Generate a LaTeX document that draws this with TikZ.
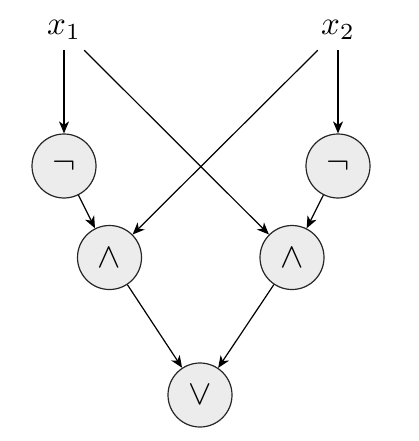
\documentclass[tikz,border=0pt]{standalone}
\usepackage{graphicx}
\usetikzlibrary{arrows.meta}
\begin{document}
\begin{tikzpicture}[x=1pt,y=-1pt,
  gate/.style={circle,draw=black!85,line width=1.2pt,fill=gray!15,minimum size=64pt,inner sep=0pt},
  var/.style={minimum width=40pt,minimum height=40pt,inner sep=0pt},
  conn/.style={line width=1.2pt,-{Stealth[length=12pt,width=10pt,inset=3.5pt]}}]
\useasboundingbox (0,0) rectangle (419,441);
\node[var] (x1) at (64,30) {\scalebox{3.3}{$x_1$}};
\node[var] (x2) at (338,30) {\scalebox{3.3}{$x_2$}};
\node[gate] (n1) at (64,166) {\scalebox{3.5}{$\neg$}};
\node[gate] (n2) at (338,166) {\scalebox{3.5}{$\neg$}};
\node[gate] (a1) at (109.5,257.5) {\scalebox{3.5}{$\wedge$}};
\node[gate] (a2) at (292,257.5) {\scalebox{3.5}{$\wedge$}};
\node[gate] (o) at (200,395) {\scalebox{3.5}{$\vee$}};
\draw[conn] (x1.south) -- (n1);
\draw[conn] (x2.south) -- (n2);
\draw[conn] (x1.south east) -- (a2);
\draw[conn] (x2.south west) -- (a1);
\draw[conn] (n1) -- (a1);
\draw[conn] (n2) -- (a2);
\draw[conn] (a1) -- (o);
\draw[conn] (a2) -- (o);
\end{tikzpicture}
\end{document}
